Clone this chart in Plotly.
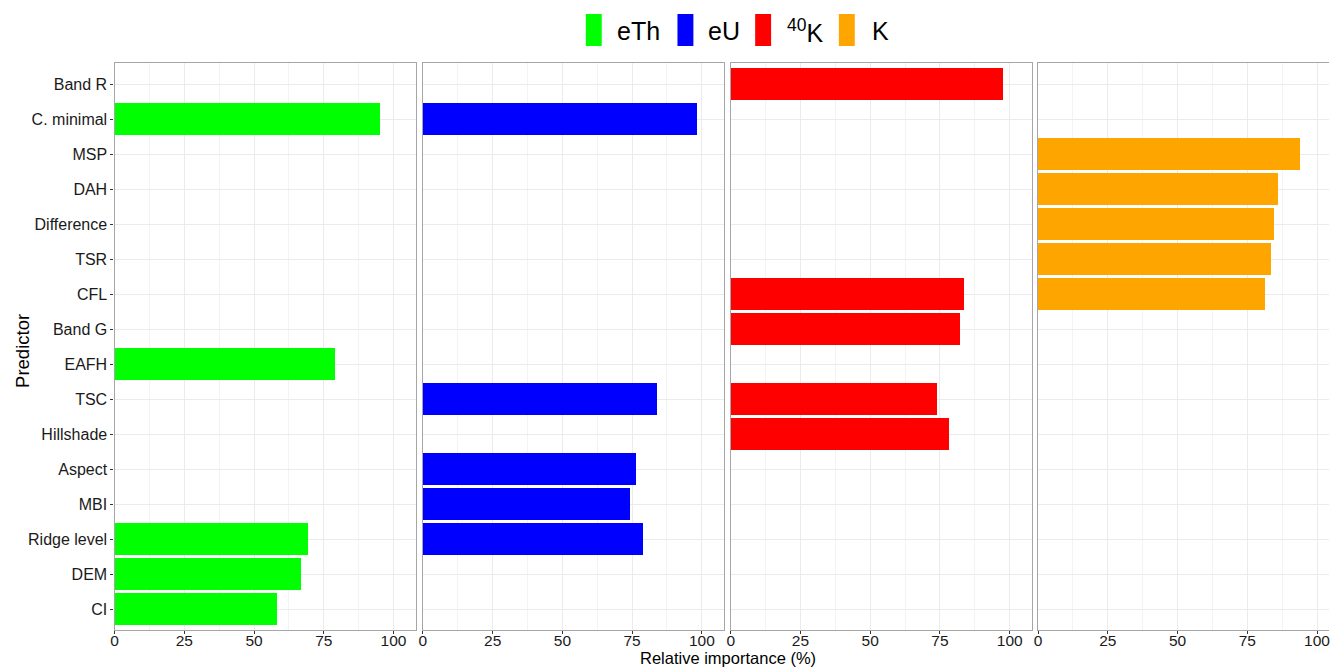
import plotly.graph_objects as go

# Predictor order, top to bottom
predictors = ["Band R", "C. minimal", "MSP", "DAH", "Difference", "TSR", "CFL",
              "Band G", "EAFH", "TSC", "Hillshade", "Aspect", "MBI",
              "Ridge level", "DEM", "CI"]

# Relative importance (%) of the top predictors for each radiometric variable
eth_pred = ["C. minimal", "EAFH", "Ridge level", "DEM", "CI"]
eth_vals = [95.0, 78.9, 69.1, 66.5, 58.2]

eu_pred = ["C. minimal", "TSC", "Aspect", "MBI", "Ridge level"]
eu_vals = [98.2, 83.9, 76.2, 74.1, 78.8]

k40_pred = ["Band R", "CFL", "Band G", "TSC", "Hillshade"]
k40_vals = [97.4, 83.7, 82.1, 73.8, 78.3]

k_pred = ["MSP", "DAH", "Difference", "TSR", "CFL"]
k_vals = [94.0, 86.1, 84.5, 83.6, 81.5]

x_ticks = [0, 25, 50, 75, 100]

W, H = 1330, 668
FONT = "Liberation Sans, Arial, sans-serif"

panels = [
    ("eTh", eth_pred, eth_vals, "#00FF00"),
    ("eU", eu_pred, eu_vals, "#0000FF"),
    ("<sup>40</sup>K", k40_pred, k40_vals, "#FF0000"),
    ("K", k_pred, k_vals, "#FFA500"),
]

# panel geometry in pixels
px_per_unit = 2.8
panel_lefts = [111, 420.5, 729.5, 1038]
panel_w = 302.4
top_px, bottom_px = 63, 630

fig = go.Figure()

for i, (name, preds, vals, color) in enumerate(panels):
    k = "" if i == 0 else str(i + 1)
    fig.add_trace(go.Bar(
        x=vals, y=preds, orientation="h", width=0.9,
        marker=dict(color=color, line=dict(width=0)),
        xaxis="x" + k, yaxis="y" + k, showlegend=False, name=name,
        hoverinfo="x+y",
    ))
    left = panel_lefts[i]
    right = min(left + panel_w, W)
    xmax = (right - left) / px_per_unit
    fig.update_layout(**{
        "xaxis" + k: dict(
            domain=[left / W, right / W], range=[0, xmax],
            anchor="y" + k,
            tickvals=x_ticks, ticktext=[str(t) for t in x_ticks],
            showgrid=True, gridcolor="#EBEBEB", gridwidth=1.2,
            minor=dict(tickvals=[12.5, 37.5, 62.5, 87.5], showgrid=True,
                       gridcolor="#F3F3F3", gridwidth=1, ticks=""),
            zeroline=False,
            showline=True, linecolor="#A6A6A6", linewidth=1.4, mirror=True,
            ticks="outside", ticklen=3, tickcolor="#333333", tickwidth=1,
            ticklabelstandoff=-7, ticklabeloverflow="allow",
            tickfont=dict(family=FONT, size=15.5, color="#1A1A1A"),
            fixedrange=True,
        ),
        "yaxis" + k: dict(
            domain=[1 - bottom_px / H, 1 - top_px / H],
            anchor="x" + k,
            type="category", categoryorder="array", categoryarray=predictors,
            range=[len(predictors) - 1 + 0.6, -0.6],
            showgrid=True, gridcolor="#EBEBEB", gridwidth=1.2,
            zeroline=False,
            showline=True, linecolor="#A6A6A6", linewidth=1.4,
            mirror=(i < 3),
            ticks="outside" if i == 0 else "", ticklen=3,
            tickcolor="#333333", tickwidth=1,
            showticklabels=(i == 0),
            tickfont=dict(family=FONT, size=16, color="#1A1A1A"),
            fixedrange=True,
        ),
    })

# axis titles
fig.add_annotation(text="Relative importance (%)", xref="paper", yref="paper",
                   x=727 / W, y=0, showarrow=False, borderpad=0,
                   font=dict(family=FONT, size=16.5, color="#000000"),
                   xanchor="center", yanchor="bottom")
fig.add_annotation(text="Predictor", xref="paper", yref="paper",
                   x=19 / W, y=1 - 351 / H, showarrow=False, textangle=-90,
                   font=dict(family=FONT, size=18.5, color="#000000"),
                   xanchor="center", yanchor="middle")

# legend row across the top
legend_keys = [(584, 613), (676, 705), (754, 784), (838, 869)]
for (kx, tx), (name, _, _, color) in zip(legend_keys, panels):
    fig.add_shape(type="rect", xref="paper", yref="paper",
                  x0=kx / W, x1=(kx + 16) / W, y0=1 - 46 / H, y1=1 - 14 / H,
                  fillcolor=color, line=dict(width=0))
    fig.add_annotation(text=name, xref="paper", yref="paper",
                       x=tx / W, y=1 - 31 / H, showarrow=False,
                       xanchor="left", yanchor="middle",
                       font=dict(family=FONT, size=25, color="#000000"))

fig.update_layout(
    width=W, height=H,
    margin=dict(l=0, r=0, t=0, b=0),
    paper_bgcolor="white", plot_bgcolor="white",
    showlegend=False, bargap=0,
)

fig.write_html("out.html", config={"displayModeBar": False})
